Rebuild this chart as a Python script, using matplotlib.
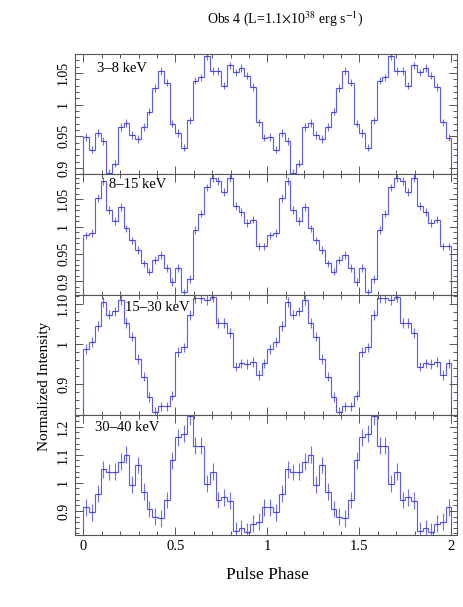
import numpy as np
import matplotlib
matplotlib.use("Agg")
import matplotlib.pyplot as plt
from matplotlib.ticker import FixedLocator, MultipleLocator

plt.rcParams['font.family'] = ['Liberation Serif', 'DejaVu Serif']
plt.rcParams['mathtext.fontset'] = 'stix'

# 32 phase bins per cycle, shown twice (phase 0-2)
n_bins = 32

bands = ["3\u20138 keV", "8\u201315 keV", "15\u201330 keV", "30\u201340 keV"]

prof_3_8 = [0.949, 0.929, 0.955, 0.943, 0.892, 0.907, 0.965, 0.971,
            0.952, 0.946, 0.965, 0.989, 1.026, 1.053, 1.035, 0.970,
            0.955, 0.932, 0.975, 1.038, 1.043, 1.077, 1.053, 1.053,
            1.030, 1.062, 1.051, 1.058, 1.046, 1.028, 0.972, 0.948]
prof_8_15 = [0.984, 0.988, 1.053, 1.084, 1.031, 1.011, 1.036, 0.997,
             0.975, 0.957, 0.933, 0.918, 0.939, 0.948, 0.925, 0.899,
             0.925, 0.880, 0.904, 0.994, 1.024, 1.072, 1.089, 1.084,
             1.064, 1.089, 1.038, 1.027, 1.007, 1.013, 0.964, 0.964]
prof_15_30 = [0.987, 1.004, 1.045, 1.104, 1.073, 1.081, 1.110, 1.052,
              1.018, 0.962, 0.918, 0.868, 0.831, 0.844, 0.844, 0.871,
              0.979, 0.991, 1.072, 1.115, 1.115, 1.110, 1.116, 1.052,
              1.052, 1.027, 0.943, 0.951, 0.949, 0.955, 0.922, 0.951]
prof_30_40 = [0.913, 0.895, 0.961, 1.049, 1.039, 1.040, 1.076, 1.100,
              0.993, 1.064, 0.969, 0.907, 0.880, 0.874, 0.939, 1.080,
              1.163, 1.175, 1.237, 1.132, 1.132, 0.997, 1.040, 0.939,
              0.949, 0.937, 0.830, 0.838, 0.826, 0.854, 0.862, 0.913]

profiles = [prof_3_8, prof_8_15, prof_15_30, prof_30_40]
errors = [0.006, 0.007, 0.012, 0.03]

ylims = [(0.89, 1.08), (0.876, 1.096), (0.823, 1.123), (0.814, 1.243)]
yticks = [[0.9, 0.95, 1.0, 1.05], [0.9, 0.95, 1.0, 1.05],
          [0.9, 1.0, 1.1], [0.9, 1.0, 1.1, 1.2]]
ytick_labels = [["0.9", "0.95", "1", "1.05"], ["0.9", "0.95", "1", "1.05"],
                ["0.9", "1", "1.10"], ["0.9", "1", "1.1", "1.2"]]
yminor = [0.01, 0.01, 0.02, 0.02]
xticks = [0, 0.5, 1, 1.5, 2]
xtick_labels = ["0", "0.5", "1", "1.5", "2"]
label_pos = [(0.058, 0.88), (0.088, 0.915), (0.13, 0.895), (0.052, 0.895)]

line_col = '#3c3cff'
frame_col = '#555555'

fig = plt.figure(figsize=(4.63, 6.07), dpi=100)
gs = fig.add_gridspec(4, 1, left=0.162, right=0.987, top=0.911, bottom=0.1186, hspace=0)

edges = np.linspace(0, 2, 2 * n_bins + 1)
centers = 0.5 * (edges[:-1] + edges[1:])

for i in range(4):
    ax = fig.add_subplot(gs[i])
    vals = np.array(profiles[i] * 2)
    ax.stairs(vals, edges, color=line_col, lw=0.8, alpha=0.85)
    ax.errorbar(centers, vals, yerr=errors[i], xerr=0.5 / n_bins * 0.6,
                fmt='none', ecolor=line_col, elinewidth=0.8, alpha=0.75)

    ax.set_xlim(-0.045, 2.03)
    ax.set_ylim(*ylims[i])
    ax.yaxis.set_major_locator(FixedLocator(yticks[i]))
    ax.set_yticklabels(ytick_labels[i], rotation=90, va='center', fontsize=10)
    ax.yaxis.set_minor_locator(MultipleLocator(yminor[i]))
    ax.xaxis.set_major_locator(FixedLocator(xticks))
    ax.xaxis.set_minor_locator(MultipleLocator(0.1))
    ax.tick_params(which='both', direction='in', top=True, right=True,
                   color=frame_col, width=0.7)
    ax.tick_params(which='major', length=6)
    ax.tick_params(which='minor', length=3)
    for sp in ax.spines.values():
        sp.set_color(frame_col)
        sp.set_linewidth(0.8)

    if i < 3:
        ax.set_xticklabels([])
    else:
        ax.set_xticklabels(xtick_labels, fontsize=10.5)

    ax.text(label_pos[i][0], label_pos[i][1], bands[i], transform=ax.transAxes,
            ha='left', va='center', fontsize=10.5)

fig.suptitle("Obs 4 (L=1.1$\\times$10$^{38}$ erg s$^{-1}$)", x=0.615, y=0.985, fontsize=10)
fig.text(0.577, 0.052, "Pulse Phase", ha='center', va='center', fontsize=12.5)
fig.text(0.097, 0.364, "Normalized Intensity", rotation=90, ha='center', va='center', fontsize=11)

plt.savefig("out.png", dpi=100)
plt.close()
